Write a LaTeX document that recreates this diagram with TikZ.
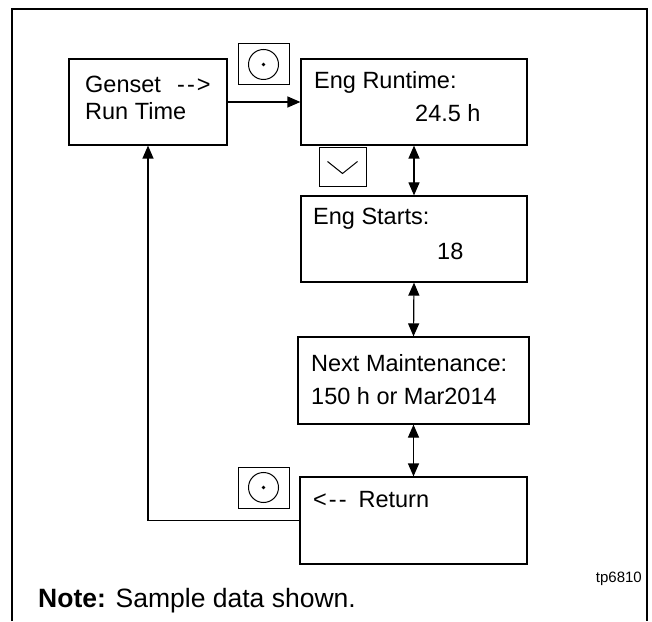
\documentclass[tikz,border=0pt]{standalone}
\usepackage{fontspec}
\setmainfont{Liberation Sans}
\usepackage{tikz}
\usetikzlibrary{arrows.meta}
\newcommand{\boxfont}{\fontsize{23.5}{28}\selectfont}

\begin{document}
\begin{tikzpicture}[
    x=1pt, y=1pt,
    screen/.style={rectangle, draw, line width=1.2pt, minimum height=86pt, inner sep=0pt},
    key/.style={rectangle, draw, line width=1pt, minimum width=51pt, minimum height=41pt, inner sep=0pt},
    txt/.style={anchor=base west, inner sep=0pt, font=\boxfont},
    arrow/.style={-{Triangle[length=13pt, width=11pt]}, line width=1.2pt},
    dblarrow/.style={{Triangle[length=13pt, width=11pt]}-{Triangle[length=13pt, width=11pt]}, line width=1.2pt}
]
\useasboundingbox (0,0) rectangle (652,621);

% Frame (open at the bottom)
\draw[line width=2.5pt] (12,0) -- (12,612) -- (647,612) -- (647,0);

% Screens
\node[screen, minimum width=158pt] (genset) at (148,519) {};
\node[screen, minimum width=226pt] (runtime) at (414,519) {};
\node[screen, minimum width=226pt] (starts) at (414,382) {};
\node[screen, minimum width=231pt, minimum height=87pt] (maint) at (413.5,240.5) {};
\node[screen, minimum width=227pt, minimum height=87pt] (ret) at (413.5,100.5) {};

% Screen texts
\node[txt] (gensetA) at (85,528) {\makebox[92pt][l]{Genset}-\kern2pt-\kern2pt>};
\node[txt] (gensetB) at (85,501) {Run Time};
\node[txt] (runtimeA) at (314,532.5) {Eng Runtime:};
\node[txt] (runtimeB) at (415,499) {24.5 h};
\node[txt] (startsA) at (313,396) {Eng Starts:};
\node[txt] (startsB) at (437,361) {18};
\node[txt] (maintA) at (311,249) {Next Maintenance:};
\node[txt] (maintB) at (311,216) {150 h or Mar2014};
\node[txt] (retA) at (313,114) {<\kern2pt-\kern2pt-\hspace{12pt}Return};

% Keys
\node[key] (selectA) at (263.5,556.5) {};
\draw[line width=1pt] (selectA.center) circle[radius=15pt];
\fill (selectA.center) circle[radius=1.8pt];
\node[key, minimum width=47pt, minimum height=39pt] (down) at (342.5,453.5) {};
\draw[line width=1pt] ([shift={(-15,6)}]down.center) -- ([shift={(0,-6)}]down.center) -- ([shift={(15,6)}]down.center);
\node[key] (selectB) at (263.5,133.5) {};
\draw[line width=1pt] (selectB.center) circle[radius=15pt];
\fill (selectB.center) circle[radius=1.8pt];

% Arrows
\draw[arrow] (genset.east) -- (runtime.west);
\draw[dblarrow] (runtime.south) -- (starts.north);
\draw[dblarrow] (starts.south) -- (maint.north);
\draw[dblarrow] (maint.south) -- (ret.north);
\draw[arrow] (ret.west) -| (genset.south);

% Notes
\node[anchor=base east, inner sep=0pt, font=\fontsize{15}{18}\selectfont] (figid) at (642,39) {tp6810};
\node[anchor=base west, inner sep=0pt, font=\fontsize{26.5}{30}\selectfont] (note) at (38,14) {\textbf{Note:} Sample data shown.};

\end{tikzpicture}
\end{document}
